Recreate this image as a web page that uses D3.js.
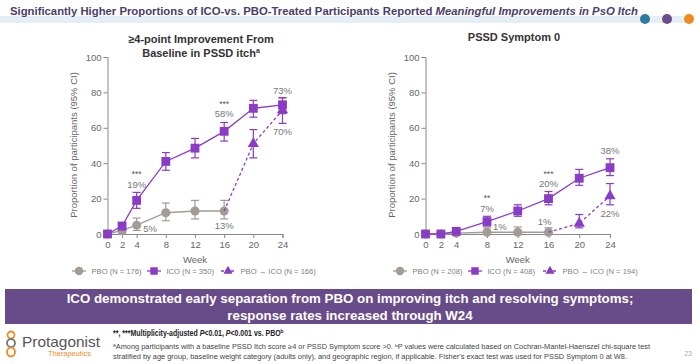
<!DOCTYPE html>
<html lang="en">
<head>
<meta charset="UTF-8">
<title>PSSD itch responses</title>
<script src="https://d3js.org/d3.v7.min.js"></script>
<style>
  body { margin: 0; background: #fff; }
  text { font-family: "Liberation Sans", Arial, sans-serif; }
</style>
</head>
<body>
<svg width="700" height="364"></svg>
<script>
// weeks and tick labels
var weeks = [0, 2, 4, 8, 12, 16, 20, 24];
var yTicks = [0, 20, 40, 60, 80, 100];
var pboWeeks = [0, 2, 4, 8, 12, 16];
var switchWeeks = [16, 20, 24];

// left panel: >=4-point improvement
var itchPbo   = [0, 2, 5, 12, 13, 13];
var itchPboLo = [0, 0.5, 2, 7.5, 8.5, 8.5];
var itchPboHi = [0, 4, 9, 17.5, 19, 19];
var itchIco   = [0, 4.5, 19, 41, 48.5, 58, 71, 73];
var itchIcoLo = [0, 2.5, 14.5, 36, 43, 52.5, 66, 68];
var itchIcoHi = [0, 6.5, 23.5, 46, 54, 63, 75.5, 77];
var itchSw    = [13, 51, 70];
var itchSwLo  = [13, 43, 62.5];
var itchSwHi  = [13, 59, 77];

// right panel: PSSD symptom 0
var symPbo   = [0, 0, 0.5, 1, 1, 1];
var symPboLo = [0, 0, 0, 0, 0, 0];
var symPboHi = [0, 0, 2, 3.5, 4, 3.5];
var symIco   = [0, 0, 1.5, 7, 13, 20, 31.5, 37.5];
var symIcoLo = [0, 0, 0.5, 4.5, 10, 16.5, 27.5, 33];
var symIcoHi = [0, 0.5, 3, 10, 16.5, 24, 36.5, 42.5];
var symSw    = [1, 6, 21.5];
var symSwLo  = [1, 3.5, 16.5];
var symSwHi  = [1, 11, 28.5];

var PBO = "#a39b95", ICO = "#8a3cc4", LAB = "#777";

var svg = d3.select("svg");

// header
svg.append("rect").attr("x", 0).attr("y", 16).attr("width", 692).attr("height", 7).attr("fill", "#e4eff5");
svg.append("text").attr("x", 10).attr("y", 15).attr("font-size", 11.5).attr("font-weight", "bold")
  .attr("fill", "#4a3e6c").attr("textLength", 628).attr("lengthAdjust", "spacingAndGlyphs")
  .html('Significantly Higher Proportions of ICO-vs. PBO-Treated Participants Reported <tspan font-style="italic">Meaningful Improvements in PsO Itch</tspan>');
[["#2e7aa1", 645], ["#6a4c8c", 667], ["#f18a1c", 689]].forEach(function(c){
  svg.append("circle").attr("cx", c[1]).attr("cy", 19).attr("r", 5).attr("fill", c[0]);
});

function panel(cfg) {
  var x = d3.scaleLinear().domain([0, 24]).range(cfg.xr);
  var y = d3.scaleLinear().domain([0, 100]).range([234, 57]);
  var g = svg.append("g");

  cfg.title.forEach(function(t, i){
    g.append("text").attr("x", cfg.tx).attr("y", cfg.ty + i * 13.5).attr("text-anchor", "middle")
      .attr("font-size", 11).attr("font-weight", "bold").attr("fill", "#333").html(t);
  });

  var ax = g.append("g").attr("transform", "translate(0,234)")
    .call(d3.axisBottom(x).tickValues(weeks).tickSize(4).tickPadding(3));
  var ay = g.append("g").attr("transform", "translate(" + cfg.xr[0] + ",0)")
    .call(d3.axisLeft(y).tickValues(yTicks).tickSize(4).tickPadding(2));
  [ax, ay].forEach(function(a){
    a.selectAll("path,line").attr("stroke", "#888");
    a.selectAll("text").attr("fill", "#666").attr("font-size", 9.5)
      .style("font-family", '"Liberation Sans", Arial, sans-serif');
  });

  g.append("text").attr("x", (cfg.xr[0] + cfg.xr[1]) / 2).attr("y", 263).attr("text-anchor", "middle")
    .attr("font-size", 9.5).attr("fill", "#666").text("Week");
  g.append("text").attr("transform", "translate(" + (cfg.xr[0] - 31) + ",145) rotate(-90)")
    .attr("text-anchor", "middle").attr("font-size", 9.5).attr("fill", "#666")
    .text("Proportion of participants (95% CI)");

  function series(wk, v, lo, hi, col, shape, dash, skipFirst) {
    var d = wk.map(function(w, i){ return {w: w, v: v[i], lo: lo[i], hi: hi[i], i: i}; });
    var s = g.append("g");
    s.append("path").datum(d).attr("fill", "none").attr("stroke", col).attr("stroke-width", 1.3)
      .attr("stroke-dasharray", dash ? "3,2.5" : null)
      .attr("d", d3.line().x(function(p){ return x(p.w); }).y(function(p){ return y(p.v); }));
    d.filter(function(p){ return p.hi > p.lo && !(skipFirst && p.i === 0); }).forEach(function(p){
      var cx = x(p.w);
      s.append("line").attr("x1", cx).attr("x2", cx).attr("y1", y(p.lo)).attr("y2", y(p.hi))
        .attr("stroke", col).attr("stroke-width", 1.2);
      [p.lo, p.hi].forEach(function(b){
        s.append("line").attr("x1", cx - 4).attr("x2", cx + 4).attr("y1", y(b)).attr("y2", y(b))
          .attr("stroke", col).attr("stroke-width", 1.2);
      });
    });
    d.forEach(function(p){
      if (skipFirst && p.i === 0) return;
      s.append("path").attr("transform", "translate(" + x(p.w) + "," + y(p.v) + ")")
        .attr("d", d3.symbol().type(shape).size(shape === d3.symbolTriangle ? 55 : (shape === d3.symbolSquare ? 78 : 64))())
        .attr("fill", col);
    });
  }
  series(pboWeeks, cfg.pbo[0], cfg.pbo[1], cfg.pbo[2], PBO, d3.symbolCircle, false, false);
  series(weeks, cfg.ico[0], cfg.ico[1], cfg.ico[2], ICO, d3.symbolSquare, false, false);
  series(switchWeeks, cfg.sw[0], cfg.sw[1], cfg.sw[2], ICO, d3.symbolTriangle, true, true);

  // notes: [week, value, dy, dx, anchor, text]
  cfg.notes.forEach(function(n){
    var star = n[5].indexOf("*") === 0;
    g.append("text").attr("x", x(n[0]) + n[3]).attr("y", y(n[1]) + n[2])
      .attr("text-anchor", n[4]).attr("font-size", star ? 8.5 : 9.5).attr("fill", star ? "#555" : LAB).text(n[5]);
  });

  // legend
  var items = [
    [cfg.lx[0], PBO, d3.symbolCircle, false, "PBO (N = " + cfg.ns[0] + ")", 56],
    [cfg.lx[1], ICO, d3.symbolSquare, false, "ICO (N = " + cfg.ns[1] + ")", 56],
    [cfg.lx[2], ICO, d3.symbolTriangle, true, "PBO \u2192 ICO (N = " + cfg.ns[2] + ")", 36]
  ];
  items.forEach(function(it){
    g.append("line").attr("x1", it[0] - 7).attr("x2", it[0] + 7).attr("y1", 271).attr("y2", 271)
      .attr("stroke", it[1]).attr("stroke-width", 1.3).attr("stroke-dasharray", it[3] ? "3,2" : null);
    g.append("path").attr("transform", "translate(" + it[0] + ",271)")
      .attr("d", d3.symbol().type(it[2]).size(it[5])()).attr("fill", it[1]);
    g.append("text").attr("x", it[0] + 12.5).attr("y", 273.8).attr("font-size", 7.6).attr("fill", "#808080").text(it[4]);
  });
}

panel({
  xr: [107.5, 282.5], tx: 201, ty: 43,
  title: ["\u22654-point Improvement From", "Baseline in PSSD itch<tspan font-size='7' dy='-4'>a</tspan>"],
  pbo: [itchPbo, itchPboLo, itchPboHi], ico: [itchIco, itchIcoLo, itchIcoHi], sw: [itchSw, itchSwLo, itchSwHi],
  notes: [[4, 19, -23, 0, "middle", "***"], [4, 19, -12.5, 0, "middle", "19%"], [4, 5, 6.5, 6.5, "start", "5%"],
          [16, 58, -24.5, 0, "middle", "***"], [16, 58, -14, 0, "middle", "58%"], [16, 13, 18.5, 0, "middle", "13%"],
          [24, 73, -11, 0, "middle", "73%"], [24, 70, 25, 0, "middle", "70%"]],
  lx: [79, 154, 228], ns: [176, 350, 166]
});
panel({
  xr: [425.5, 610], tx: 514, ty: 41,
  title: ["PSSD Symptom 0"],
  pbo: [symPbo, symPboLo, symPboHi], ico: [symIco, symIcoLo, symIcoHi], sw: [symSw, symSwLo, symSwHi],
  notes: [[8, 7, -20.5, 0, "middle", "**"], [8, 7, -10, 0, "middle", "7%"], [8, 1, -2, 6, "start", "1%"],
          [16, 20, -22, 0, "middle", "***"], [16, 20, -11.5, 0, "middle", "20%"], [16, 1, -7, -4, "middle", "1%"],
          [24, 37.5, -14, 0, "middle", "38%"], [24, 21.5, 21.5, 0, "middle", "22%"]],
  lx: [400, 475, 550], ns: [208, 408, 194]
});

// banner
svg.append("rect").attr("x", 5).attr("y", 289).attr("width", 687).attr("height", 35).attr("fill", "#674c89");
svg.append("text").attr("x", 350).attr("y", 302.5).attr("text-anchor", "middle").attr("fill", "#fff")
  .attr("font-size", 13.3).attr("font-weight", "bold")
  .text("ICO demonstrated early separation from PBO on improving itch and resolving symptoms;");
svg.append("text").attr("x", 350).attr("y", 319.5).attr("text-anchor", "middle").attr("fill", "#fff")
  .attr("font-size", 13.3).attr("font-weight", "bold").text("response rates increased through W24");

// footnotes
svg.append("text").attr("transform", "translate(113,336) scale(0.82,1)").attr("font-size", 8.5)
  .attr("font-weight", "bold").attr("fill", "#222")
  .html('**, ***Multiplicity-adjusted <tspan font-style="italic">P</tspan>&lt;0.01, <tspan font-style="italic">P</tspan>&lt;0.001 vs. PBO<tspan font-size="6" dy="-3">b</tspan>');
svg.append("text").attr("x", 113).attr("y", 348.5).attr("font-size", 6.8).attr("fill", "#444")
  .attr("textLength", 537).attr("lengthAdjust", "spacingAndGlyphs")
  .text("\u00aaAmong participants with a baseline PSSD Itch score \u22654 or PSSD Symptom score >0. \u1d47P values were calculated based on Cochran-Mantel-Haenszel chi-square test");
svg.append("text").attr("x", 113).attr("y", 358.5).attr("font-size", 6.8).attr("fill", "#444")
  .attr("textLength", 514).attr("lengthAdjust", "spacingAndGlyphs")
  .text("stratified by age group, baseline weight category (adults only), and geographic region, if applicable. Fisher's exact test was used for PSSD Symptom 0 at W8.");
svg.append("text").attr("x", 692).attr("y", 356).attr("text-anchor", "end").attr("font-size", 7).attr("fill", "#aaa").text("23");

// logo
var logo = svg.append("g").attr("fill", "none").attr("stroke-width", 1.8);
logo.append("ellipse").attr("cx", 11).attr("cy", 335).attr("rx", 3.5).attr("ry", 3.5).attr("stroke", "#f18a1c");
logo.append("ellipse").attr("cx", 11).attr("cy", 343).attr("rx", 4).attr("ry", 4).attr("stroke", "#777");
logo.append("ellipse").attr("cx", 11).attr("cy", 352).attr("rx", 4).attr("ry", 4.5).attr("stroke", "#f18a1c");
svg.append("text").attr("x", 22).attr("y", 347).attr("font-size", 14.5).attr("fill", "#555")
  .attr("textLength", 78).attr("lengthAdjust", "spacingAndGlyphs").text("Protagonist");
svg.append("text").attr("x", 48).attr("y", 356).attr("font-size", 7.8).attr("fill", "#f18a1c")
  .attr("textLength", 43).attr("lengthAdjust", "spacingAndGlyphs").text("Therapeutics");
</script>
</body>
</html>
